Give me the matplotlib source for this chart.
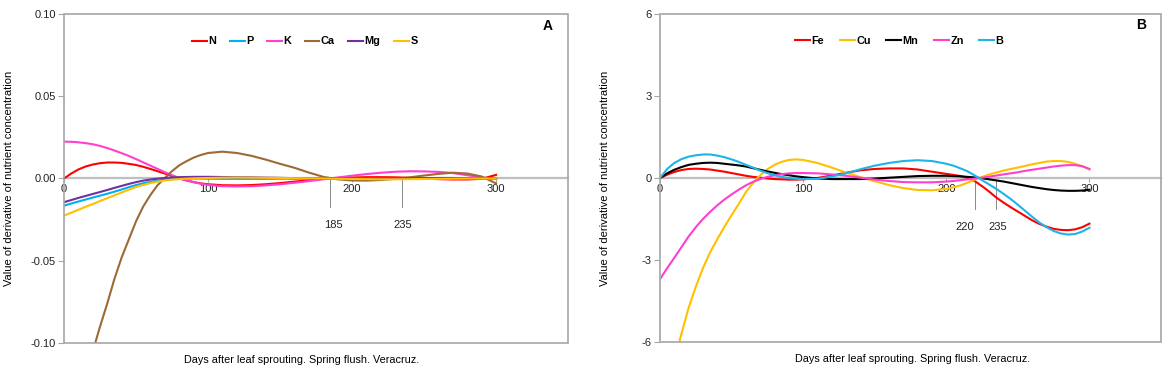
import matplotlib
matplotlib.use('Agg')
import matplotlib.pyplot as plt
from matplotlib.patches import Rectangle

plt.rcParams['font.family'] = ['Liberation Sans', 'DejaVu Sans']

# days after leaf sprouting; finer steps where the curves bend most
days_a = list(range(0, 101, 5)) + list(range(110, 301, 10))
days_b = list(range(0, 101, 5)) + list(range(110, 201, 10)) + list(range(205, 301, 5))

# panel A: macronutrients
n_vals = [0.0, 0.0030, 0.0055, 0.0073, 0.0085, 0.0093, 0.0097, 0.0097, 0.0095, 0.0089,
          0.0082, 0.0071, 0.0058, 0.0044, 0.0030, 0.0015, 0.0, -0.0012, -0.0022, -0.0030,
          -0.0035,
          -0.0041, -0.0042, -0.0040, -0.0035, -0.0028, -0.0019, -0.0010, -0.0002, 0.0003,
          0.0006, 0.0008, 0.0008, 0.0007, 0.0004, 0.0, -0.0004, -0.0006, -0.0006, -0.0002,
          0.0022]
p_vals = [-0.0165, -0.0152, -0.0140, -0.0128, -0.0116, -0.0104, -0.0093, -0.0080, -0.0067,
          -0.0053, -0.0040, -0.0029, -0.0020, -0.0013, -0.0008, -0.0004, -0.0002, -0.0001,
          0.0, -0.0001, -0.0001,
          -0.0002, -0.0002, -0.0002, -0.0002, -0.0001, -0.0001, 0.0, 0.0, 0.0, 0.0, 0.0,
          0.0, 0.0, 0.0, 0.0, 0.0, 0.0, 0.0, 0.0001, 0.0001]
k_vals = [0.0224, 0.0223, 0.0220, 0.0215, 0.0208, 0.0198, 0.0185, 0.0170, 0.0154, 0.0137,
          0.0118, 0.0098, 0.0078, 0.0058, 0.0038, 0.0020, 0.0003, -0.0011, -0.0022, -0.0032,
          -0.0039,
          -0.0047, -0.0049, -0.0047, -0.0042, -0.0035, -0.0026, -0.0016, -0.0005, 0.0006,
          0.0017, 0.0027, 0.0035, 0.0041, 0.0044, 0.0043, 0.0040, 0.0033, 0.0020, 0.0006,
          -0.0002]
ca_vals = [-0.18, -0.16, -0.14, -0.122, -0.105, -0.090, -0.076, -0.061, -0.048, -0.037,
           -0.026, -0.017, -0.010, -0.004, 0.0003, 0.0045, 0.0080, 0.0105, 0.0127, 0.0143,
           0.0155,
           0.0163, 0.0155, 0.0138, 0.0115, 0.0089, 0.0065, 0.0036, 0.0010, -0.0005, -0.0012,
           -0.0013, -0.0009, -0.0002, 0.0007, 0.0018, 0.0028, 0.0035, 0.0030, 0.0012,
           -0.0030]
mg_vals = [-0.0144, -0.0131, -0.0118, -0.0106, -0.0094, -0.0082, -0.0070, -0.0057, -0.0045,
           -0.0033, -0.0022, -0.0013, -0.0006, -0.0001, 0.0003, 0.0006, 0.0008, 0.0009,
           0.0010, 0.0010, 0.0010,
           0.0009, 0.0008, 0.0007, 0.0005, 0.0004, 0.0002, 0.0001, 0.0, 0.0, 0.0, -0.0001,
           -0.0001, 0.0, 0.0001, 0.0002, 0.0003, 0.0003, 0.0002, 0.0001, 0.0]
s_vals = [-0.0226, -0.0208, -0.0190, -0.0172, -0.0155, -0.0137, -0.0120, -0.0102, -0.0085,
          -0.0068, -0.0052, -0.0039, -0.0028, -0.0019, -0.0012, -0.0007, -0.0004, -0.0001,
          0.0001, 0.0002, 0.0003,
          0.0005, 0.0006, 0.0005, 0.0004, 0.0003, 0.0002, 0.0001, 0.0, -0.0002, -0.0003,
          -0.0004, -0.0005, -0.0005, -0.0004, -0.0003, -0.0002, -0.0001, 0.0, 0.0, 0.0]

# panel B: micronutrients
fe_vals = [0.0, 0.12, 0.22, 0.29, 0.33, 0.34, 0.33, 0.31, 0.27, 0.23, 0.18, 0.13, 0.08,
           0.04, 0.01, -0.02, -0.04, -0.05, -0.06, -0.06, -0.05,
           0.0, 0.09, 0.19, 0.28, 0.33, 0.35, 0.35, 0.31, 0.23, 0.15,
           0.11, 0.07, 0.0, -0.12, -0.30, -0.50, -0.72, -0.90, -1.07, -1.23, -1.39, -1.55,
           -1.68, -1.78, -1.86, -1.90, -1.91, -1.88, -1.80, -1.67]
cu_vals = [-8.8, -7.7, -6.65, -5.7, -4.75, -3.98, -3.30, -2.72, -2.24, -1.79, -1.36, -0.95,
           -0.52, -0.18, 0.10, 0.32, 0.48, 0.59, 0.66, 0.68, 0.66,
           0.55, 0.38, 0.20, 0.03, -0.12, -0.26, -0.37, -0.44, -0.45, -0.40,
           -0.34, -0.27, -0.17, -0.06, 0.04, 0.13, 0.20, 0.27, 0.33, 0.38, 0.44, 0.50, 0.55,
           0.60, 0.62, 0.62, 0.59, 0.52, 0.43, 0.31]
mn_vals = [0.0, 0.17, 0.30, 0.40, 0.48, 0.52, 0.55, 0.56, 0.55, 0.52, 0.49, 0.46, 0.42,
           0.36, 0.30, 0.24, 0.19, 0.14, 0.10, 0.06, 0.03,
           -0.02, -0.04, -0.04, -0.04, -0.02, 0.01, 0.04, 0.07, 0.08, 0.08,
           0.07, 0.06, 0.04, 0.02, -0.01, -0.05, -0.09, -0.13, -0.18, -0.23, -0.28, -0.33,
           -0.37, -0.41, -0.44, -0.46, -0.47, -0.47, -0.46, -0.43]
zn_vals = [-3.70, -3.30, -2.92, -2.53, -2.14, -1.80, -1.50, -1.24, -1.00, -0.79, -0.60,
           -0.43, -0.27, -0.14, -0.04, 0.04, 0.10, 0.14, 0.17, 0.18, 0.18,
           0.17, 0.13, 0.08, 0.01, -0.06, -0.11, -0.15, -0.16, -0.16, -0.13,
           -0.11, -0.08, -0.05, -0.02, 0.01, 0.05, 0.09, 0.13, 0.17, 0.21, 0.26, 0.30, 0.34,
           0.38, 0.42, 0.45, 0.47, 0.47, 0.43, 0.33]
b_vals = [0.0, 0.33, 0.55, 0.69, 0.78, 0.83, 0.86, 0.86, 0.82, 0.76, 0.68, 0.59, 0.48,
          0.38, 0.27, 0.18, 0.10, 0.04, 0.0, -0.03, -0.04,
          -0.03, 0.05, 0.17, 0.32, 0.45, 0.55, 0.62, 0.65, 0.62, 0.52,
          0.45, 0.35, 0.24, 0.09, -0.08, -0.24, -0.40, -0.58, -0.77, -0.98, -1.20, -1.42,
          -1.63, -1.80, -1.94, -2.03, -2.07, -2.05, -1.96, -1.82]

series_a = [('N', n_vals, '#FF0000'), ('P', p_vals, '#00B0F0'), ('K', k_vals, '#FF3FD0'),
            ('Ca', ca_vals, '#9C6A35'), ('Mg', mg_vals, '#7030A0'), ('S', s_vals, '#FFC000')]
series_b = [('Fe', fe_vals, '#FF0000'), ('Cu', cu_vals, '#FFC000'), ('Mn', mn_vals, '#000000'),
            ('Zn', zn_vals, '#FF3FD0'), ('B', b_vals, '#1EB4EA')]

marks_a = [185, 235]
marks_b = [220, 235]

GRID = '#A6A6A6'


def setup_axes(ax, days, ylim, yticks, ylabels, letter, series, marks, mark_depth,
               label_y, label_dx, xlabel_x, colspace):
    for name, vals, color in series:
        ax.plot(days, vals, color=color, lw=1.5, label=name, zorder=3)

    ax.set_xlim(0, 350)
    ax.set_ylim(*ylim)
    ax.set_yticks(yticks)
    ax.set_yticklabels(ylabels)
    ax.set_xticks([0, 100, 200, 300])

    for side in ['top', 'right', 'left']:
        ax.spines[side].set_visible(False)
    ax.spines['bottom'].set_position(('data', 0))
    ax.spines['bottom'].set_color('#BFBFBF')
    ax.spines['bottom'].set_linewidth(1.6)
    ax.spines['bottom'].set_zorder(2)
    ax.add_patch(Rectangle((0, 0), 1, 1, transform=ax.transAxes, fill=False,
                           ec=GRID, lw=1.2, clip_on=False, zorder=4))

    ax.tick_params(axis='y', direction='out', length=4, width=0.8, color=GRID,
                   labelsize=8, pad=2, labelcolor='#222222')
    ax.tick_params(axis='x', direction='out', length=3, width=0.8, color=GRID,
                   labelsize=8, pad=1, labelcolor='#222222')

    for d in marks:
        ax.plot([d, d], [0, mark_depth], color='#888888', lw=0.7, zorder=2)
    for d, dx in zip(marks, label_dx):
        ax.text(d + dx, label_y, str(d), ha='center', va='center', fontsize=8,
                color='#222222')

    ax.text(0.96, 0.965, letter, transform=ax.transAxes, ha='center', va='center',
            fontsize=10, fontweight='bold')
    ax.set_ylabel('Value of derivative of nutrient concentration', fontsize=8)
    ax.yaxis.set_label_coords(-0.1, 0.5)
    ax.text(xlabel_x, -0.052, 'Days after leaf sprouting. Spring flush. Veracruz.',
            transform=ax.transAxes, ha='center', va='center', fontsize=7.8)

    ax.legend(loc='center', bbox_to_anchor=(0.478, 0.917), ncol=len(series),
              frameon=False, handlelength=1.35, handletextpad=0.15,
              columnspacing=colspace, prop={'size': 7.8, 'weight': 'bold'})


fig = plt.figure(figsize=(11.75, 3.77), dpi=100)
ax_a = fig.add_axes([0.0545, 0.0902, 0.429, 0.8727])
ax_b = fig.add_axes([0.5617, 0.0929, 0.4264, 0.8700])

setup_axes(ax_a, days_a, (-0.10, 0.10), [-0.10, -0.05, 0.0, 0.05, 0.10],
           ['-0.10', '-0.05', '0.00', '0.05', '0.10'], 'A', series_a, marks_a,
           -0.0172, -0.0282, [2, 0], 0.472, 1.25)
setup_axes(ax_b, days_b, (-6, 6), [-6, -3, 0, 3, 6], ['-6', '-3', '0', '3', '6'], 'B',
           series_b, marks_b, -1.15, -1.8, [-7, 1], 0.505, 1.45)

fig.savefig('out.png', dpi=100)
